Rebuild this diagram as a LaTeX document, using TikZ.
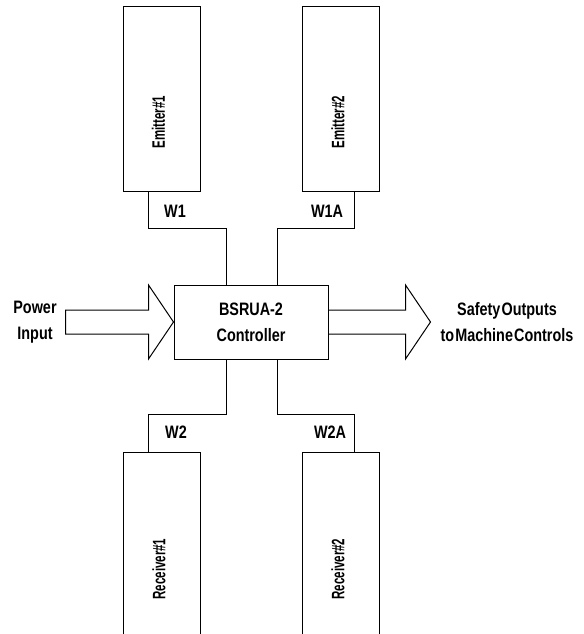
\documentclass[tikz,border=0pt]{standalone}
\usepackage{fontspec}
\setmainfont{Liberation Sans}[FakeStretch=0.8, WordSpace=0.3]
\usetikzlibrary{calc}
\begin{document}
\begin{tikzpicture}[x=0.75pt,y=-0.75pt,
  line width=0.75pt,
  txt/.style={inner sep=0pt, align=center, font=\fontsize{13.5}{19.5}\selectfont\bfseries},
  unitbox/.style={draw, minimum width=57.75pt, inner sep=0pt},
  ctrlbox/.style={draw, minimum width=115.5pt, minimum height=55.5pt, inner sep=0pt, align=center, font=\fontsize{13.5}{19.5}\selectfont\bfseries},
  bigarrow/.style={draw, line join=miter}]
\useasboundingbox (0,0) rectangle (583,634);
% units
\node[unitbox, minimum height=138.75pt] (e1) at (161.5,99.5) {};
\node[unitbox, minimum height=138.75pt] (e2) at (340.5,99.5) {};
\node[unitbox, minimum height=156pt] (r1) at (161.5,556) {};
\node[unitbox, minimum height=156pt] (r2) at (340.5,556) {};
\node[txt] (e1t) at (158.5,122) {\rotatebox{90}{\scalebox{0.8}[1]{Emitter\#1}}};
\node[txt] (e2t) at (338,122) {\rotatebox{90}{\scalebox{0.8}[1]{Emitter\#2}}};
\node[txt] (r1t) at (159,569) {\rotatebox{90}{\scalebox{0.8}[1]{Receiver\#1}}};
\node[txt] (r2t) at (338,569) {\rotatebox{90}{\scalebox{0.8}[1]{Receiver\#2}}};
% controller
\node[ctrlbox] (ctrl) at (251,322) {BSRUA-2\\Controller};
% cable brackets
\coordinate (k1) at (226,229);
\coordinate (k2) at (277,229);
\coordinate (k3) at (226,414);
\coordinate (k4) at (277,414);
\draw ([xshift=19.5pt]e1.south west) |- (k1) -- (k1 |- ctrl.north);
\draw ([xshift=-18.75pt]e2.south east) |- (k2) -- (k2 |- ctrl.north);
\draw ([xshift=19.5pt]r1.north west) |- (k3) -- (k3 |- ctrl.south);
\draw ([xshift=-18.75pt]r2.north east) |- (k4) -- (k4 |- ctrl.south);
\node[txt] (w1) at (175,211) {W1};
\node[txt] (w1a) at (327,211) {W1A};
\node[txt] (w2) at (176,432) {W2};
\node[txt] (w2a) at (330,432) {W2A};
% big arrows
\draw[bigarrow] (ctrl.west) -- ++(-25,-37) -- ++(0,25) -- ++(-83,0) -- ++(0,24) -- ++(83,0) -- ++(0,25) -- cycle;
\draw[bigarrow] ($(ctrl.east)+(0,-12)$) -- ++(77,0) -- ++(0,-25) -- ++(25,37) -- ++(-25,37) -- ++(0,-25) -- ++(-77,0);
\node[txt] (pin) at (35,322) {Power\\Input};
\node[txt] (sout) at (507,322) {Safety Outputs\\to Machine Controls};
\end{tikzpicture}
\end{document}
